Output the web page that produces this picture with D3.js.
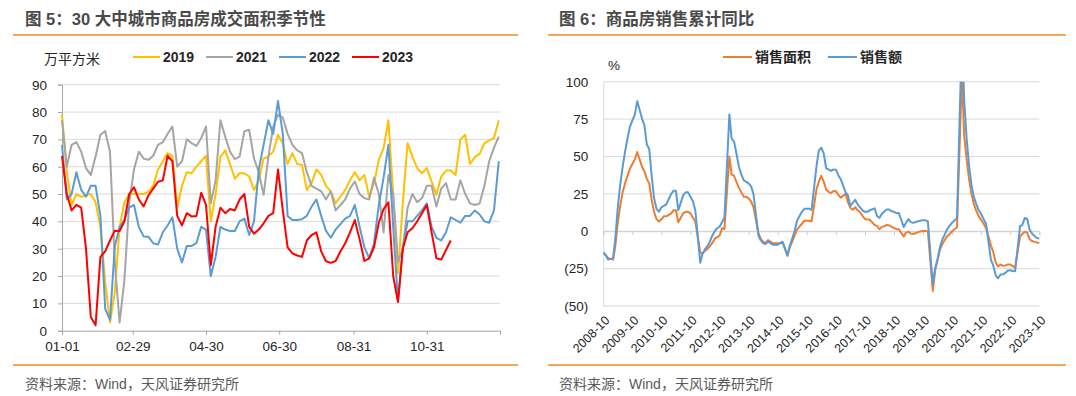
<!DOCTYPE html>
<html>
<head>
<meta charset="utf-8">
<script src="https://cdn.jsdelivr.net/npm/d3@7"></script>
<style>
  html, body { margin: 0; padding: 0; background: #fff; }
  svg { display: block; font-family: "Liberation Sans", "Noto Sans CJK SC", sans-serif; }
</style>
</head>
<body>
<svg id="chart" width="1076" height="396"></svg>
<script>
// ---------- 图5 data: daily series sampled every 4 days (day 0 = 01-01) ----------
const days = d3.range(0, 365, 4);
const s2019 = [
  79, 58, 46, 50, 49, 49.5, 50, 47, 38, 18,
  3, 14, 38, 47, 50, 50, 50, 50, 51, 53,
  59, 62, 65, 64, 45, 53, 58, 57.6, 60, 62,
  64, 40, 50, 63.5, 66, 61, 55.6, 57.6, 57.6, 56.4,
  51.5, 55, 63, 63.7, 65.5, 71.7, 68.6, 61, 65, 61,
  60.7, 51.5, 54, 59, 57, 53, 51, 46.6, 49, 51.5,
  55, 58, 55, 57, 49, 54, 62.5, 66.8, 77, 50,
  21, 46.6, 68.6, 63.7, 59.5, 57.6, 59.5, 54.6, 49.7, 56.4,
  58.6, 58.6, 57, 70, 71.7, 61, 63.5, 64.7, 68.6, 69.6,
  70.5, 77
];
const s2021 = [
  77, 60, 68, 69, 65.5, 59.5, 57, 63.7, 71.7, 73,
  65.5, 25, 3, 18.5, 46.6, 59, 65.5, 63, 62.5, 64,
  68, 69, 72, 74.7, 60, 62, 70, 68.6, 67.6, 70.5,
  74.7, 46.6, 55, 77, 71, 65.5, 62.8, 63.7, 73, 73.5,
  63, 58, 49.7, 63.7, 74.7, 79, 78, 72, 68, 66,
  65, 58, 53, 52, 51, 48, 51, 44, 46, 48,
  52, 54.6, 50, 48.5, 48, 56, 50, 36, 57, 50,
  25, 30, 45, 50, 47, 48.5, 53, 53, 45.4, 52,
  54, 48, 48, 55, 50, 46.6, 46, 46.5, 53, 62,
  67, 71
];
const s2022 = [
  68, 48, 50, 58, 51.5, 49, 53, 53, 42, 8,
  4, 30.8, 38, 40.5, 45, 46, 38, 34.5, 34.4, 32,
  31.5, 36, 38.5, 41.5, 30, 25, 31, 31, 32, 38,
  37, 20, 27, 38, 37, 36.5, 36.5, 40, 41, 35,
  40, 59, 68, 77, 72, 84, 72, 42, 40.5, 40.5,
  40.8, 42, 45.4, 48, 42, 36.5, 34, 37, 39, 41,
  42, 46, 38, 30.5, 26.5, 32, 46, 56, 68, 38,
  10.5, 30, 40, 40, 42, 44, 46.6, 38, 34, 33,
  36, 41.5, 40.5, 39.5, 42, 42, 44, 42.5, 40, 39.5,
  44, 62
];
const s2023 = [
  64, 50, 44, 46, 45, 30, 5, 2, 27, 29,
  33, 36.6, 36.5, 40, 50, 52.5, 48, 45.5, 49.5, 52,
  54.5, 55, 64, 62, 42, 38.5, 43, 41.8, 42, 50.5,
  46, 24, 38, 45, 43, 44.5, 44, 48, 50, 38,
  35.5, 37, 39.3, 42, 43, 59, 44, 30.5, 28.3, 27.5,
  27, 33, 35, 36, 29, 25.4, 24.8, 25.5, 29, 32,
  36, 40.5, 33.5, 25.5, 26.5, 30.5, 39.5, 44.5, 47, 20,
  10.5, 30, 36, 37.5, 40, 43, 46, 36, 26.5, 26,
  29.5, 33
];
const seasonYears = ['2019', '2021', '2022', '2023'];
const seasonTicks = ['01-01', '02-29', '04-30', '06-30', '08-31', '10-31'];

// ---------- 图6 data: cumulative YoY, %, monthly (Jan merged into Feb) ----------
const areaYoY = [
  -15, -16, -18,                                                   // 2008 Oct-Dec
  -19, -10, 6, 17, 26, 32, 37, 42, 45, 48, 53,                     // 2009 Feb-Dec
  43, 40, 35, 32, 21, 13, 8, 6.5, 8, 10, 10,                       // 2010
  12, 14, 14, 6, 9, 12, 13, 13, 12, 9, 6.5,                        // 2011
  -14, -15, -13, -12, -10, -8, -5, -4, -3, 2, 1.5,                 // 2012
  50, 38, 37, 33, 29, 26, 23, 23, 22, 20, 16,                      // 2013
  -1, -5, -7, -8, -6, -7, -8, -8, -8, -8, -7.5,                    // 2014
  -16.5, -11, -7, -3, 1, 3, 5, 7, 7, 7, 6.5,                       // 2015
  28.2, 33.1, 37.1, 33.2, 27.9, 26.4, 25.5, 26.9, 26.8, 24.3, 22.5, // 2016
  25, 19.5, 15.7, 14.3, 16.1, 14, 12.7, 10.3, 8.2, 7.9, 7.7,       // 2017
  4.1, 3.6, 1.3, 2.9, 3.3, 4.2, 4, 2.9, 2.2, 1.4, 1.3,             // 2018
  -3.6, -0.9, -0.3, -1.6, -1.8, -1.3, -0.6, -0.1, 0.1, 0.2, -0.1,  // 2019
  -39.9, -26.3, -19.3, -12.3, -8.4, -5.8, -3.3, -1.8, 0, 1.3, 2.6, // 2020
  104.9, 64, 48, 35, 25, 18, 13.5, 10, 7.5, 5, 2,                  // 2021
  -9.6, -13.8, -20.9, -23.6, -22.2, -23.1, -23, -22.2, -22.3, -23.3, -24.3, // 2022
  -3.6, -1.8, -0.4, -0.9, -5.3, -6.5, -7.1, -7.5, -7.8             // 2023 Feb-Oct
];
const valueYoY = [
  -14, -16, -19,
  -18, -5, 16, 31, 43, 53, 62, 70, 74, 78, 87,
  75, 71, 58, 55, 37, 22, 15, 13, 16, 17, 18,
  25, 27, 27, 14, 19, 24, 26, 26, 23, 20, 14,
  -21, -15, -12, -10, -7, -3, 0, 2, 3, 6, 9,
  78, 62, 60, 52, 43, 38, 34, 33, 32, 30, 25,
  -3, -6, -8, -8.5, -7, -8, -9, -9, -9, -8, -7,
  -16, -10, -5, 0, 7, 10, 13, 15, 15, 15, 14.4,
  43.6, 54.1, 55.9, 52, 42.1, 41.3, 40.3, 41.3, 41.2, 37.5, 34.8,
  26, 24, 17, 19, 21, 18, 16, 14, 13, 13, 14,
  15.3, 10.4, 8.9, 11.5, 13.2, 14.5, 14.5, 13.3, 13, 12.1, 12.2,
  2.8, 5.6, 8.1, 6.1, 5.6, 6.2, 6.7, 7.1, 7.3, 7.3, 6.5,
  -35.9, -24.7, -18.6, -10.6, -5.4, -2.1, 1.6, 3.7, 5.8, 7.2, 8.7,
  133.4, 88, 62, 44, 31, 23, 18, 14, 11.5, 8, 5,
  -19.3, -22.7, -29.5, -31.5, -28.9, -28.8, -27.9, -26.3, -26.1, -26.6, -26.7,
  3.5, 4.1, 8.8, 8.4, 1.1, -1.5, -3.2, -4.6, -4.9
];
const yoyNames = ['销售面积', '销售额'];
const yoyTicks = d3.range(2008, 2024).map((y) => `${y}-10`);
const yoyYTicks = [-50, -25, 0, 25, 50, 75, 100];

// month categories: 2008-10 .. 2023-10, January has no release
const months = [];
for (let y = 2008; y <= 2023; y++) {
  for (let m = 2; m <= 12; m++) {
    if ((y === 2008 && m < 10) || (y === 2023 && m > 10)) continue;
    months.push(`${y}-${String(m).padStart(2, '0')}`);
  }
}

const svg = d3.select('#chart');
const txt = '#262626';
const grid = '#d9d9d9';
const orangeRule = '#f08a24';

// ---------- headers / footers ----------
function frame(x0, x1, tx, title) {
  svg.append('text').attr('x', tx).attr('y', 19).attr('dy', '0.35em')
    .attr('font-size', '16.5px').attr('font-weight', 700).attr('fill', '#4a4a4a').text(title);
  svg.append('line').attr('x1', x0).attr('x2', x1).attr('y1', 35).attr('y2', 35)
    .attr('stroke', orangeRule).attr('stroke-width', 1.5);
  svg.append('line').attr('x1', x0).attr('x2', x1).attr('y1', 365).attr('y2', 365)
    .attr('stroke', orangeRule).attr('stroke-width', 1.5);
  svg.append('text').attr('x', tx).attr('y', 384).attr('dy', '0.35em')
    .attr('font-size', '14px').attr('fill', '#595959').text('资料来源：Wind，天风证券研究所');
}
frame(13, 518, 25, '图 5：30 大中城市商品房成交面积季节性');
frame(548, 1066, 559, '图 6：商品房销售累计同比');

// ---------- 图5 ----------
const base = new Date(2020, 0, 1);
const parseMD = d3.timeParse('%Y-%m-%d');
const xL = d3.scaleTime().domain([base, new Date(2020, 11, 31)]).range([62, 500]);
const yL = d3.scaleLinear().domain([0, 90]).range([330.7, 84.7]);
const seasonColor = d3.scaleOrdinal().domain(seasonYears).range(['#ffc000', '#a5a5a5', '#5b9bd5', '#ff0000']);

const gL = svg.append('g');
gL.append('g').selectAll('line').data(yL.ticks(9).filter((v) => v > 0)).join('line')
  .attr('x1', xL.range()[0]).attr('x2', xL.range()[1])
  .attr('y1', (d) => yL(d)).attr('y2', (d) => yL(d))
  .attr('stroke', grid).attr('stroke-width', 1);

const tickDates = seasonTicks.map((t) => parseMD(`2020-${t}`)).concat([new Date(2020, 11, 31)]);
const axL = gL.append('g').attr('transform', `translate(0,${yL(0)})`)
  .call(d3.axisBottom(xL).tickValues(tickDates).tickSize(4).tickPadding(7)
    .tickFormat((d, i) => seasonTicks[i] || ''));
const ayL = gL.append('g').attr('transform', `translate(${xL.range()[0]},0)`)
  .call(d3.axisLeft(yL).ticks(9).tickSize(4).tickPadding(11));
[axL, ayL].forEach((a) => {
  a.selectAll('path,line').attr('stroke', '#a6a6a6');
  a.selectAll('text').attr('fill', txt).attr('font-size', '13.5px').attr('font-family', null);
});

const lineL = d3.line()
  .x((d) => xL(d3.timeDay.offset(base, d[0])))
  .y((d) => yL(d[1]));
const seasonData = [s2019, s2021, s2022, s2023];
seasonYears.forEach((yr, i) => {
  gL.append('path')
    .datum(seasonData[i].map((v, j) => [days[j], v]))
    .attr('d', lineL).attr('fill', 'none')
    .attr('stroke', seasonColor(yr)).attr('stroke-width', 2).attr('stroke-linejoin', 'round');
});

// unit + legend
svg.append('text').attr('x', 44).attr('y', 59).attr('dy', '0.35em')
  .attr('font-size', '14px').attr('fill', txt).text('万平方米');
const legL = svg.append('g').selectAll('g').data(seasonYears).join('g')
  .attr('transform', (d, i) => `translate(${133 + i * 73},57)`);
legL.append('line').attr('x1', 0).attr('x2', 27)
  .attr('stroke', (d) => seasonColor(d)).attr('stroke-width', 2);
legL.append('text').attr('x', 30).attr('dy', '0.35em').attr('font-size', '14px')
  .attr('font-weight', 700).attr('fill', txt).text((d) => d);

// ---------- 图6 ----------
const parseYM = d3.timeParse('%Y-%m');
const xR = d3.scaleTime().domain([parseYM('2008-10'), parseYM('2023-10')]).range([603.3, 1039.3]);
const yR = d3.scaleLinear().domain([-50, 100]).range([306, 81.7]);
const yoyColor = d3.scaleOrdinal().domain(yoyNames).range(['#ed7d31', '#5b9bd5']);
const fmtR = (v) => (v < 0 ? `(${-v})` : `${v}`);

const gR = svg.append('g');
gR.append('g').selectAll('line').data(yoyYTicks).join('line')
  .attr('x1', xR.range()[0]).attr('x2', xR.range()[1])
  .attr('y1', (d) => yR(d)).attr('y2', (d) => yR(d))
  .attr('stroke', grid).attr('stroke-width', 1);

const ayR = gR.append('g').attr('transform', `translate(${xR.range()[0]},0)`)
  .call(d3.axisLeft(yR).tickValues(yoyYTicks).tickSize(0).tickPadding(15).tickFormat(fmtR));
ayR.select('.domain').attr('stroke', grid);
ayR.selectAll('text').attr('fill', txt).attr('font-size', '13.5px').attr('font-family', null);

const yearTicks = yoyTicks.map(parseYM);
const axR = gR.append('g').attr('transform', `translate(0,${yR(0)})`)
  .call(d3.axisBottom(xR).tickValues(yearTicks).tickSize(4).tickFormat(''));
axR.selectAll('path,line').attr('stroke', '#d0d0d0');

gR.append('g').selectAll('text').data(yoyTicks).join('text')
  .attr('transform', (d) => `translate(${xR(parseYM(d)) + 4},${yR(-50) + 12}) rotate(-45)`)
  .attr('text-anchor', 'end').attr('dy', '0.35em')
  .attr('font-size', '12.5px').attr('fill', txt).text((d) => d);

svg.append('defs').append('clipPath').attr('id', 'clipR').append('rect')
  .attr('x', xR.range()[0]).attr('y', yR(100))
  .attr('width', xR.range()[1] - xR.range()[0] + 4).attr('height', yR(-50) - yR(100));

const lineR = d3.line().x((d) => xR(parseYM(d[0]))).y((d) => yR(d[1]));
[areaYoY, valueYoY].forEach((vals, i) => {
  gR.append('path')
    .datum(months.map((m, j) => [m, vals[j]]))
    .attr('clip-path', 'url(#clipR)')
    .attr('d', lineR).attr('fill', 'none')
    .attr('stroke', yoyColor(yoyNames[i])).attr('stroke-width', 2).attr('stroke-linejoin', 'round');
});

svg.append('text').attr('x', 608).attr('y', 65).attr('dy', '0.35em')
  .attr('font-size', '13.5px').attr('fill', txt).text('%');
const legR = svg.append('g').selectAll('g').data(yoyNames).join('g')
  .attr('transform', (d, i) => `translate(${723 + i * 105},57)`);
legR.append('line').attr('x1', 0).attr('x2', 29)
  .attr('stroke', (d) => yoyColor(d)).attr('stroke-width', 2);
legR.append('text').attr('x', 32).attr('dy', '0.35em').attr('font-size', '14px')
  .attr('font-weight', 700).attr('fill', txt).text((d) => d);
</script>
</body>
</html>
